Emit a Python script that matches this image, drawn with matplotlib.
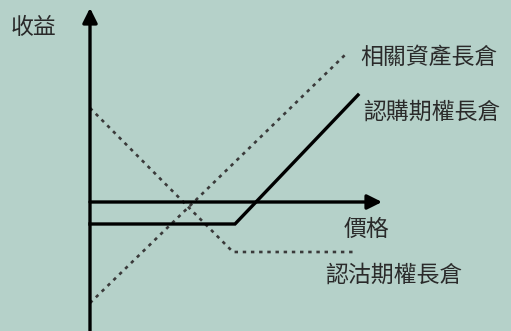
import matplotlib.pyplot as plt

plt.rcParams['font.family'] = ['Noto Sans CJK TC', 'DejaVu Sans']

# payoff lines, origin at the axes crossing
asset_x = [0, 258]
asset_y = [-101, 150]
call_x = [0, 145, 268]
call_y = [-22, -22, 107]
put_x = [0, 143, 263]
put_y = [94, -50, -50]

labels = ['相關資產長倉', '認購期權長倉', '認沽期權長倉']
y_label = '收益'
x_label = '價格'

bg = '#b5d1c9'
fig = plt.figure(figsize=(5.11, 3.31), dpi=100, facecolor=bg)
ax = fig.add_axes([0, 0, 1, 1])
ax.set_facecolor(bg)
ax.set_xlim(-90, 421)
ax.set_ylim(-129, 202)
ax.axis('off')

# axes arrows
arrow = dict(arrowstyle='-|>', lw=2.4, color='black', mutation_scale=22, shrinkA=0, shrinkB=0)
ax.annotate('', xy=(0, 194), xytext=(0, -129), arrowprops=arrow)
ax.annotate('', xy=(292, 0), xytext=(0, 0), arrowprops=arrow)

dot = (0, (1.3, 1.8))
ax.plot(asset_x, asset_y, color='#3a3a3a', lw=1.9, linestyle=dot)
ax.plot(put_x, put_y, color='#3a3a3a', lw=1.9, linestyle=dot)
ax.plot(call_x, call_y, color='black', lw=2.4, solid_joinstyle='miter')

tc = '#2a2a2a'
fs = 16.5
kw = dict(fontsize=fs, color=tc, va='center', fontweight='light')
ax.text(-56, 175, y_label, ha='center', **kw)
ax.text(276, -27, x_label, ha='center', **kw)
ax.text(270, 145, labels[0], ha='left', **kw)
ax.text(273, 90, labels[1], ha='left', **kw)
ax.text(235, -73, labels[2], ha='left', **kw)

fig.savefig('out.png', dpi=100, facecolor=bg)
